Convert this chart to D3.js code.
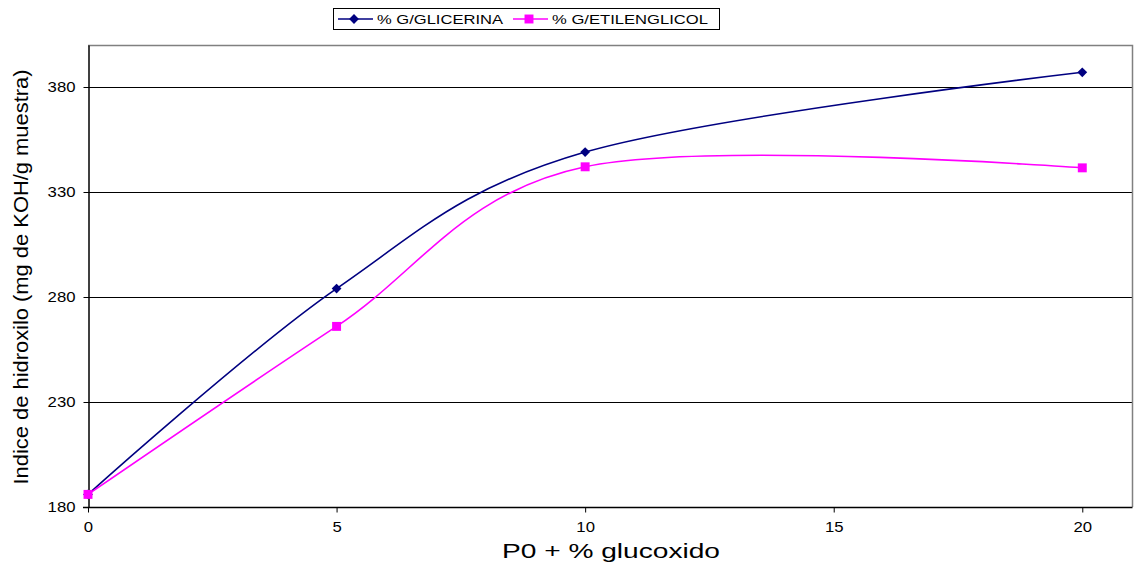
<!DOCTYPE html>
<html>
<head>
<meta charset="utf-8">
<script src="https://cdn.jsdelivr.net/npm/d3@7"></script>
<style>
  body { margin: 0; background: #fff; }
  svg text { font-family: "Liberation Sans", Arial, sans-serif; }
</style>
</head>
<body>
<svg id="chart" width="1135" height="568"></svg>
<script>
// data
const xValues = [0, 5, 10, 20];
const glicerina = [186, 284, 349, 387];
const etilenglicol = [186, 266, 342, 341.5];
const seriesNames = ["% G/GLICERINA", "% G/ETILENGLICOL"];
const seriesColors = ["#000080", "#FF00FF"];
const xTicks = [0, 5, 10, 15, 20];
const yTicks = [180, 230, 280, 330, 380];

const svg = d3.select("#chart");
const plotL = 88, plotR = 1132, plotT = 45, plotB = 507;

const x = d3.scaleLinear().domain([0, 21]).range([plotL, plotR]);
const y = d3.scaleLinear().domain([180, 400]).range([plotB, plotT]);

// grid lines
svg.append("g").selectAll("line").data(yTicks.slice(1)).enter().append("line")
  .attr("x1", plotL).attr("x2", plotR)
  .attr("y1", d => y(d) + 0.5).attr("y2", d => y(d) + 0.5)
  .attr("stroke", "#000").attr("stroke-width", 1);

// top and right frame
svg.append("path")
  .attr("d", `M${plotL},${plotT + 0.5}H${plotR + 0.5}V${plotB}`)
  .attr("fill", "none").attr("stroke", "#808080").attr("stroke-width", 1.5);

// axes
const yAxis = svg.append("g").attr("transform", `translate(${plotL + 0.5},0)`)
  .call(d3.axisLeft(y).tickValues(yTicks).tickSize(5).tickPadding(8).tickSizeOuter(0));
const xAxis = svg.append("g").attr("transform", `translate(0,${plotB + 0.5})`)
  .call(d3.axisBottom(x).tickValues(xTicks).tickSize(5).tickPadding(9).tickSizeOuter(0));
[yAxis, xAxis].forEach(a => {
  a.attr("font-size", 15).attr("font-family", "'Liberation Sans', Arial, sans-serif");
  a.select(".domain").attr("stroke", "#000").attr("stroke-width", 1.5);
  a.selectAll(".tick line").attr("stroke", "#000");
  a.selectAll(".tick text").attr("fill", "#000")
    .attr("textLength", d => String(d).length * 9.3)
    .attr("lengthAdjust", "spacingAndGlyphs");
});
// extend bottom axis to the left edge of the y axis tick
xAxis.select(".domain").attr("d", `M${plotL - 5},0H${plotR + 0.5}`);

// lines
const line = d3.line().curve(d3.curveCardinal.tension(0))
  .x(d => x(d[0])).y(d => y(d[1]));
const allSeries = [glicerina, etilenglicol].map(vals => xValues.map((v, i) => [v, vals[i]]));

svg.append("g").selectAll("path").data(allSeries).enter().append("path")
  .attr("d", line)
  .attr("fill", "none")
  .attr("stroke", (d, i) => seriesColors[i])
  .attr("stroke-width", 1.6);

// markers: rotated square for the diamond, plain square
const diamond = d3.symbol().type(d3.symbolSquare).size(48);
const square = d3.symbol().type(d3.symbolSquare).size(80);
svg.append("g").selectAll("path").data(allSeries[0]).enter().append("path")
  .attr("d", diamond)
  .attr("transform", d => `translate(${x(d[0])},${y(d[1])}) rotate(45)`)
  .attr("fill", seriesColors[0]);
svg.append("g").selectAll("path").data(allSeries[1]).enter().append("path")
  .attr("d", square)
  .attr("transform", d => `translate(${x(d[0])},${y(d[1])})`)
  .attr("fill", seriesColors[1]);

// axis titles
svg.append("text")
  .attr("x", 611).attr("y", 558)
  .attr("text-anchor", "middle")
  .attr("font-size", 21)
  .attr("textLength", 218)
  .attr("lengthAdjust", "spacingAndGlyphs")
  .text("P0 + % glucoxido");

svg.append("text")
  .attr("transform", "translate(28,277) rotate(-90)")
  .attr("text-anchor", "middle")
  .attr("font-size", 21)
  .attr("textLength", 415)
  .attr("lengthAdjust", "spacingAndGlyphs")
  .text("Indice de hidroxilo (mg de KOH/g muestra)");

// legend
const legend = svg.append("g");
legend.append("rect")
  .attr("x", 333.5).attr("y", 8.5).attr("width", 386).attr("height", 21)
  .attr("fill", "#fff").attr("stroke", "#000").attr("stroke-width", 1);
const legendX = [338, 513];
const legendTextLen = [126, 156];
seriesNames.forEach((name, i) => {
  const g = legend.append("g").attr("transform", `translate(${legendX[i]},19)`);
  g.append("line").attr("x1", 0).attr("x2", 35).attr("y1", 0).attr("y2", 0)
    .attr("stroke", seriesColors[i]).attr("stroke-width", 1.6);
  g.append("path").attr("d", i === 0 ? diamond : square)
    .attr("transform", i === 0 ? "translate(16,0) rotate(45)" : "translate(16,0)")
    .attr("fill", seriesColors[i]);
  g.append("text").attr("x", 39).attr("y", 5)
    .attr("font-size", 13)
    .attr("textLength", legendTextLen[i])
    .attr("lengthAdjust", "spacingAndGlyphs")
    .text(name);
});
</script>
</body>
</html>
